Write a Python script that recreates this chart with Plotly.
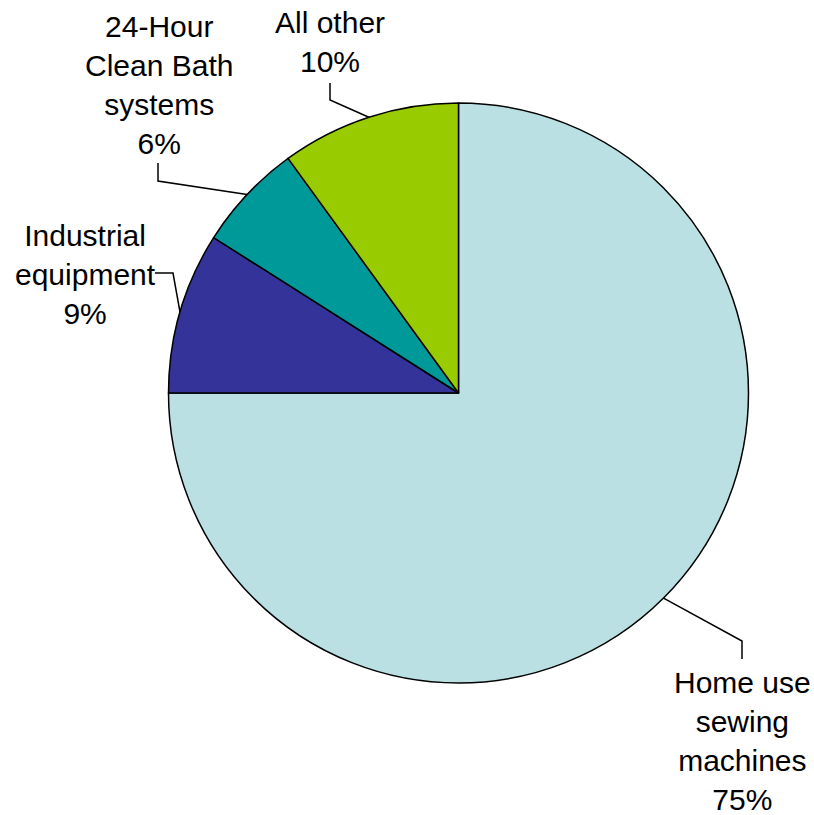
import numpy as np
import plotly.graph_objects as go

W, H = 814, 815

# data (clockwise from 12 o'clock)
categories = ["Home use<br>sewing<br>machines", "Industrial<br>equipment",
              "24-Hour<br>Clean Bath<br>systems", "All other"]
shares = [75, 9, 6, 10]
colors = ["#BBE0E3", "#333399", "#009999", "#99CC00"]

# pie geometry in pixels
cx, cy, r = 458.5, 393, 290

# label placement: text block centre, elbow point, end of leader
label_pos = [(742, 741), (85, 274), (159, 85), (330, 42)]
elbows = [((742, 641), (742, 659)),
          ((173, 273), (155, 273)),
          ((158, 181), (158, 163)),
          ((330, 100), (330, 83))]


def px(x):
    return x / W


def py(y):
    return 1 - y / H


fig = go.Figure(go.Pie(
    labels=categories,
    values=shares,
    sort=False,
    direction="clockwise",
    rotation=0,
    textinfo="none",
    hoverinfo="label+percent",
    marker=dict(colors=colors, line=dict(color="black", width=1.5)),
    domain=dict(x=[px(cx - r), px(cx + r)], y=[py(cy + r), py(cy - r)]),
    showlegend=False,
))

# leader lines and labels, anchored at each slice's mid angle
total = sum(shares)
cum = np.cumsum([0] + shares) / total
for i, (lab, v) in enumerate(zip(categories, shares)):
    mid = (cum[i] + cum[i + 1]) / 2 * 2 * np.pi
    ex, ey = cx + r * np.sin(mid), cy - r * np.cos(mid)
    (bx, by), (tx, ty) = elbows[i]
    path = f"M {px(ex)},{py(ey)} L {px(bx)},{py(by)} L {px(tx)},{py(ty)}"
    fig.add_shape(type="path", path=path, xref="paper", yref="paper",
                  line=dict(color="black", width=1.5))
    lx, ly = label_pos[i]
    pct = round(100 * v / total)
    fig.add_annotation(x=px(lx), y=py(ly), xref="paper", yref="paper",
                       text=f"{lab}<br>{pct}%", showarrow=False,
                       xanchor="center", yanchor="middle", align="center",
                       font=dict(family="Liberation Sans, Arial", size=30, color="black"))

fig.update_layout(
    width=W, height=H,
    margin=dict(l=0, r=0, t=0, b=0),
    paper_bgcolor="white",
    plot_bgcolor="white",
)

# drop the default body margin so the figure fills the window exactly
fig.write_html("out.html",
               config={"displayModeBar": False},
               post_script="document.body.style.margin='0';"
                           "document.body.style.overflow='hidden';")
